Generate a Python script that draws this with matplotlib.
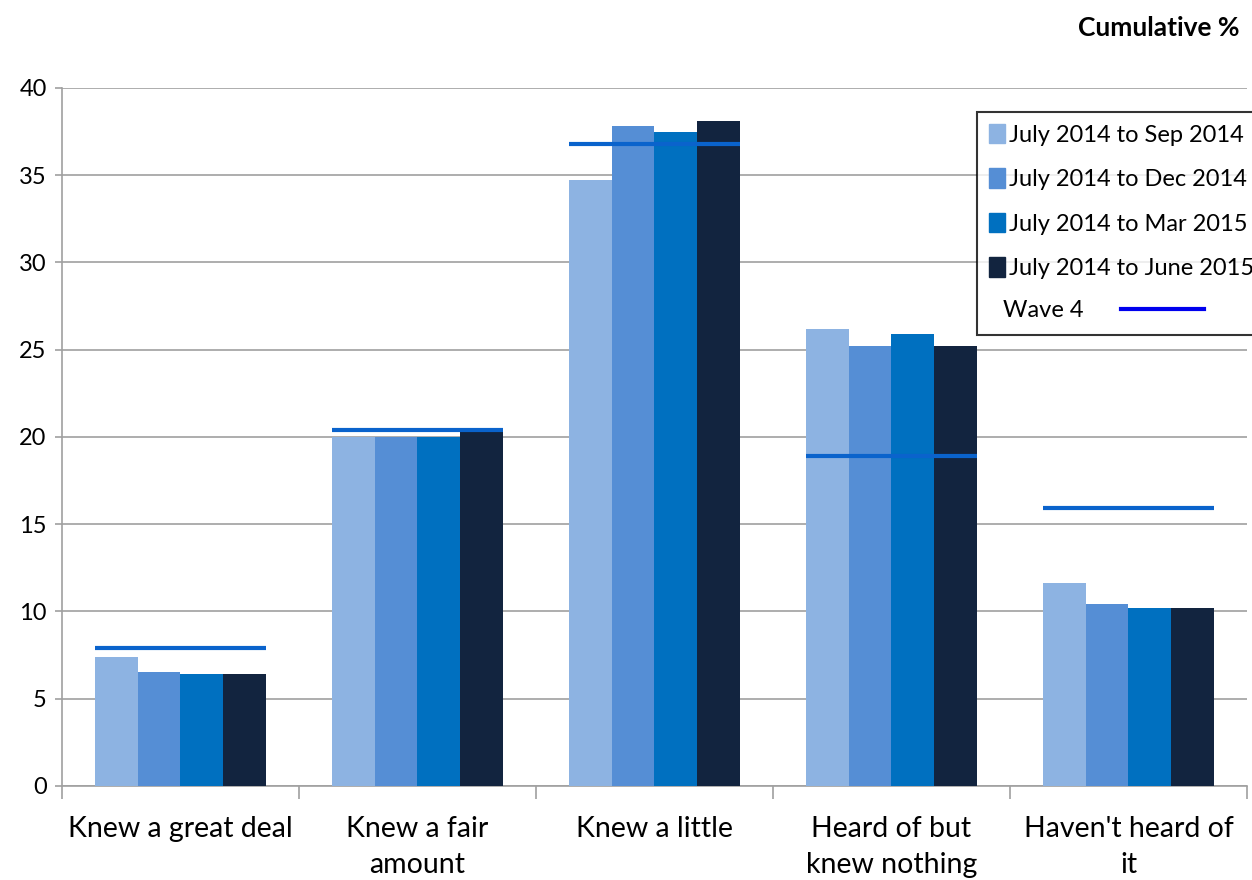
import matplotlib.pyplot as plt
import numpy as np
from matplotlib.patches import Patch
from matplotlib.lines import Line2D

plt.rcParams['font.family'] = ['Lato', 'DejaVu Sans']

categories = ["Knew a great deal", "Knew a fair\namount", "Knew a little",
              "Heard of but\nknew nothing", "Haven't heard of\nit"]
series_names = ["July 2014 to Sep 2014", "July 2014 to Dec 2014",
                "July 2014 to Mar 2015", "July 2014 to June 2015"]
sep_2014 = [7.4, 20.0, 34.7, 26.2, 11.6]
dec_2014 = [6.5, 20.0, 37.8, 25.2, 10.4]
mar_2015 = [6.4, 20.0, 37.5, 25.9, 10.2]
jun_2015 = [6.4, 20.3, 38.1, 25.2, 10.2]
wave_4 = [7.9, 20.4, 36.8, 18.9, 15.9]

colors = ['#8db3e2', '#558ed5', '#0070c0', '#12243f']
wave_color = '#0a63cc'

fig = plt.figure(figsize=(12.52, 8.8), dpi=100)
ax = fig.add_axes([0.0495, 0.107, 0.9465, 0.793])

x = np.arange(len(categories))
w = 0.181
for i, vals in enumerate([sep_2014, dec_2014, mar_2015, jun_2015]):
    ax.bar(x + (i - 1.5) * w, vals, width=w, color=colors[i], zorder=3)

for xi, v in zip(x, wave_4):
    ax.hlines(v, xi - 2 * w, xi + 2 * w, color=wave_color, lw=3, zorder=4)

ax.set_xlim(-0.5, 4.5)
ax.set_ylim(0, 40)
ax.set_yticks(np.arange(0, 41, 5))
ax.yaxis.grid(True, color='#a0a0a0', lw=1.2, zorder=0)
ax.set_xticks(x)
ax.set_xticklabels(categories, fontsize=20.5, linespacing=1.45)
ax.set_xticks(np.arange(-0.5, 4.6, 1), minor=True)
ax.tick_params(axis='x', which='major', length=0, pad=22)
ax.tick_params(axis='x', which='minor', length=9, color='#a0a0a0', width=1.2)
ax.tick_params(axis='y', length=5, color='#a0a0a0', width=1.2, labelsize=17, pad=6)
for s in ['top', 'right']:
    ax.spines[s].set_visible(False)
for s in ['left', 'bottom']:
    ax.spines[s].set_color('#a0a0a0')
    ax.spines[s].set_linewidth(1.2)

handles = [Patch(color=c) for c in colors] + [Patch(alpha=0)]
labels = series_names + [""]
leg = fig.legend(handles, labels, loc='upper left', bbox_to_anchor=(0.7804, 0.8727),
                 fontsize=17, frameon=True, fancybox=False, edgecolor='black',
                 handlelength=0.7, handleheight=0.9, handletextpad=0.15,
                 labelspacing=0.95, borderpad=0.5, borderaxespad=0)
leg.get_frame().set_linewidth(1.5)

leg2 = fig.legend([Line2D([], [], color='#0000ee', lw=3)], ["Wave 4"],
                  loc='center left', bbox_to_anchor=(0.801, 0.6466), fontsize=17,
                  frameon=False, markerfirst=False, handlelength=3.5,
                  handletextpad=1.6, borderaxespad=0, borderpad=0)

fig.text(0.99, 0.968, "Cumulative %", ha='right', va='center', fontsize=19,
         fontweight='bold')

fig.savefig('out.png', dpi=100)
